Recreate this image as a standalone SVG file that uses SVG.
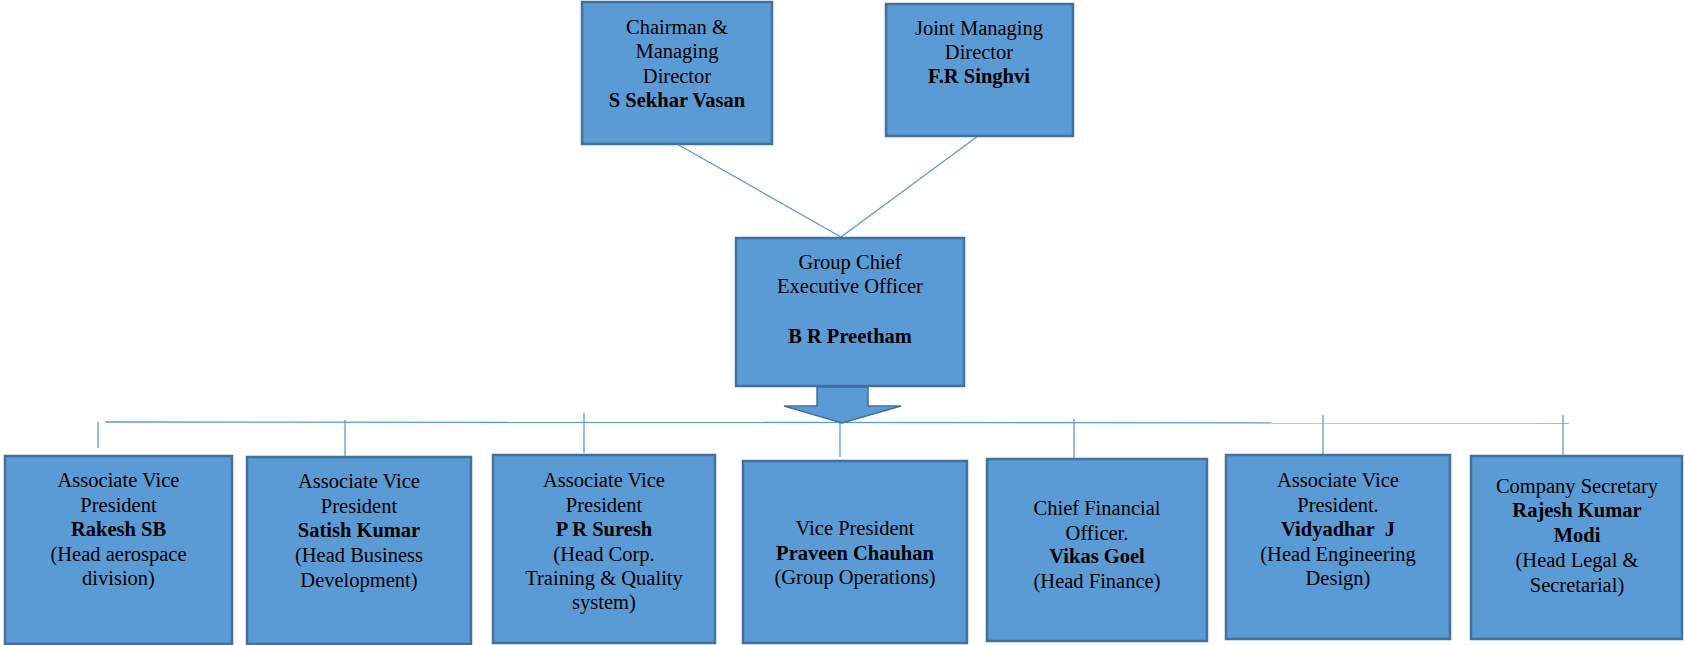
<svg xmlns="http://www.w3.org/2000/svg" width="1684" height="645" viewBox="0 0 1684 645">
<style>
.box{fill:#5B9BD5;stroke:#41719C;stroke-width:2.5}
.t{font-family:"Liberation Serif","Times New Roman",serif;font-size:20.5px;fill:#000;text-anchor:middle}
.b{font-weight:bold}
.c{stroke:#5B9BD5;stroke-width:1.3;fill:none}
</style>
<rect width="1684" height="645" fill="#fff"/>
<g id="connectors">
<line class="c" x1="677" y1="144" x2="841" y2="237"/>
<line class="c" x1="978" y1="136" x2="841" y2="237"/>
<line class="c" x1="105" y1="422" x2="1569" y2="423"/>
<line class="c" x1="98" y1="422" x2="98" y2="448"/>
<line class="c" x1="345" y1="420" x2="345" y2="459"/>
<line class="c" x1="584" y1="413" x2="584" y2="453"/>
<line class="c" x1="840" y1="423" x2="840" y2="457"/>
<line class="c" x1="1074" y1="419" x2="1074" y2="458"/>
<line class="c" x1="1323" y1="415" x2="1323" y2="454"/>
<line class="c" x1="1563" y1="415" x2="1563" y2="455"/>
<polygon points="817,387 868,387 868,406 901,406 842,423 784,406 817,406" fill="#5B9BD5" stroke="#41719C" stroke-width="1.5"/>
</g>
<g id="cmd">
<rect class="box" x="582" y="2" width="190" height="142"/>
<text class="t" x="677" y="34">Chairman &amp;</text>
<text class="t" x="677" y="58">Managing</text>
<text class="t" x="677" y="83">Director</text>
<text class="t b" x="677" y="107">S Sekhar Vasan</text>
</g>
<g id="jmd">
<rect class="box" x="886" y="4" width="187" height="132"/>
<text class="t" x="979" y="35">Joint Managing</text>
<text class="t" x="979" y="59">Director</text>
<text class="t b" x="979" y="83">F.R Singhvi</text>
</g>
<g id="ceo">
<rect class="box" x="736" y="238" width="228" height="148"/>
<text class="t" x="850" y="269">Group Chief</text>
<text class="t" x="850" y="293">Executive Officer</text>
<text class="t b" x="850" y="343">B R Preetham</text>
</g>
<g id="rakesh">
<rect class="box" x="5" y="456" width="227" height="188"/>
<text class="t" x="118.5" y="487">Associate Vice</text>
<text class="t" x="118.5" y="512">President</text>
<text class="t b" x="118.5" y="536">Rakesh SB</text>
<text class="t" x="118.5" y="561">(Head aerospace</text>
<text class="t" x="118.5" y="585">division)</text>
</g>
<g id="satish">
<rect class="box" x="247" y="457" width="224" height="187"/>
<text class="t" x="359" y="488">Associate Vice</text>
<text class="t" x="359" y="513">President</text>
<text class="t b" x="359" y="537">Satish Kumar</text>
<text class="t" x="359" y="562">(Head Business</text>
<text class="t" x="359" y="587">Development)</text>
</g>
<g id="suresh">
<rect class="box" x="493" y="455" width="222" height="188"/>
<text class="t" x="604" y="487">Associate Vice</text>
<text class="t" x="604" y="512">President</text>
<text class="t b" x="604" y="536">P R Suresh</text>
<text class="t" x="604" y="561">(Head Corp.</text>
<text class="t" x="604" y="585">Training &amp; Quality</text>
<text class="t" x="604" y="609">system)</text>
</g>
<g id="praveen">
<rect class="box" x="743" y="461" width="224" height="182"/>
<text class="t" x="855" y="535">Vice President</text>
<text class="t b" x="855" y="560">Praveen Chauhan</text>
<text class="t" x="855" y="584">(Group Operations)</text>
</g>
<g id="cfo">
<rect class="box" x="987" y="459" width="220" height="182"/>
<text class="t" x="1097" y="515">Chief Financial</text>
<text class="t" x="1097" y="540">Officer.</text>
<text class="t b" x="1097" y="563">Vikas Goel</text>
<text class="t" x="1097" y="588">(Head Finance)</text>
</g>
<g id="vidyadhar">
<rect class="box" x="1226" y="455" width="224" height="184"/>
<text class="t" x="1338" y="487">Associate Vice</text>
<text class="t" x="1338" y="512">President.</text>
<text class="t b" x="1338" y="536" xml:space="preserve">Vidyadhar  J</text>
<text class="t" x="1338" y="561">(Head Engineering</text>
<text class="t" x="1338" y="585">Design)</text>
</g>
<g id="rajesh">
<rect class="box" x="1471" y="456" width="211" height="183"/>
<text class="t" x="1577" y="493">Company Secretary</text>
<text class="t b" x="1577" y="517">Rajesh Kumar</text>
<text class="t b" x="1577" y="542">Modi</text>
<text class="t" x="1577" y="567">(Head Legal &amp;</text>
<text class="t" x="1577" y="592">Secretarial)</text>
</g>
</svg>
